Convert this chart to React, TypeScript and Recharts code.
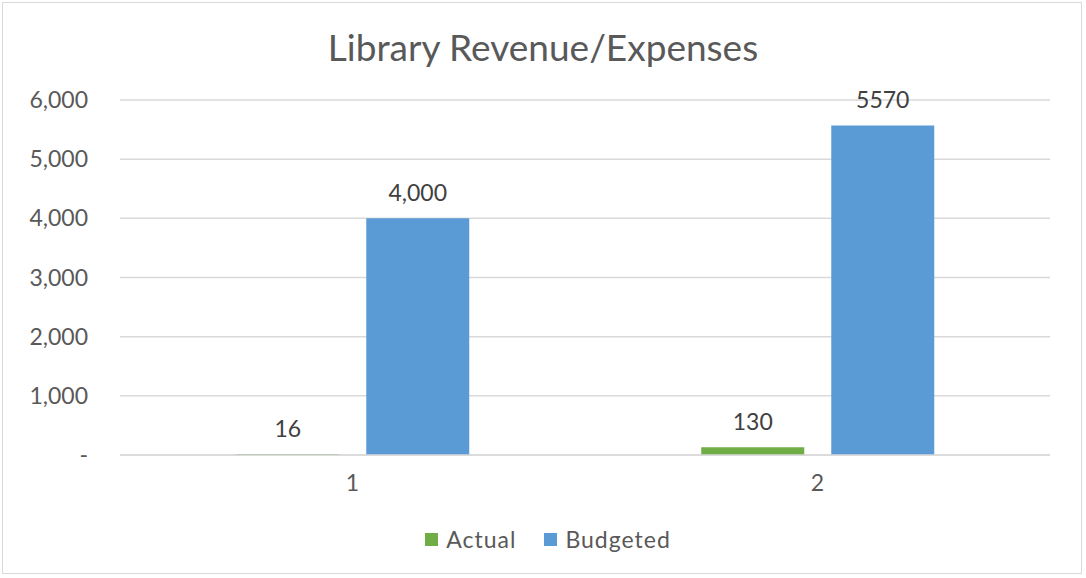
import { BarChart, Bar, XAxis, YAxis, CartesianGrid, Legend, LabelList } from "recharts";

const categories = ["1", "2"];
const actual = [16, 130];
const budgeted = [4000, 5570];
const actualLabels = ["16", "130"];
const budgetedLabels = ["4,000", "5570"];
const yTicks = [0, 1000, 2000, 3000, 4000, 5000, 6000];

const data = categories.map((c, i) => ({
  name: c,
  actual: actual[i],
  budgeted: budgeted[i],
  actualLabel: actualLabels[i],
  budgetedLabel: budgetedLabels[i],
}));

const FONT = "Lato, 'Open Sans', sans-serif";
const TEXT = "#595959";

const renderLegend = (props: any) => {
  const items = props.payload || [];
  return (
    <div style={{ display: "flex", justifyContent: "center", alignItems: "center", fontFamily: FONT, fontSize: 23, letterSpacing: 1, color: TEXT, paddingLeft: 46 }}>
      {items.map((it: any, i: number) => (
        <div key={i} style={{ display: "flex", alignItems: "center", marginRight: i === 0 ? 28 : 0 }}>
          <span style={{ width: 13, height: 13, background: it.color, display: "inline-block", marginRight: 8 }} />
          <span>{it.value}</span>
        </div>
      ))}
    </div>
  );
};

export default function App() {
  return (
    <div style={{ position: "absolute", left: 0, top: 0, width: 1086, height: 578, background: "#fff" }}>
      <div
        style={{
          position: "absolute",
          left: 2,
          top: 2,
          width: 1080,
          height: 572,
          border: "1.5px solid #d9d9d9",
          boxSizing: "border-box",
        }}
      />
      <div
        style={{
          position: "absolute",
          top: 24,
          left: 0,
          width: 1086,
          textAlign: "center",
          fontFamily: FONT,
          fontSize: 37,
          color: TEXT,
          lineHeight: "46px",
        }}
      >
        Library Revenue/Expenses
      </div>
      <BarChart
        width={1086}
        height={578}
        data={data}
        margin={{ top: 100, right: 36, left: 0, bottom: 20 }}
        barCategoryGap="25%"
        barGap={27}
      >
        <CartesianGrid vertical={false} stroke="#d9d9d9" strokeWidth={1.5} />
        <XAxis
          dataKey="name"
          height={70}
          tickLine={false}
          axisLine={{ stroke: "#d9d9d9", strokeWidth: 1.5 }}
          tickSize={0}
          tickMargin={20}
          tick={{ fill: TEXT, fontSize: 23, fontFamily: FONT }}
        />
        <YAxis
          width={120}
          domain={[0, 6000]}
          ticks={yTicks}
          axisLine={false}
          tickLine={false}
          tickSize={0}
          tickMargin={32}
          tickFormatter={(v: number) => (v === 0 ? "-" : v.toLocaleString("en-US"))}
          tick={{ fill: TEXT, fontSize: 23, fontFamily: FONT }}
        />
        <Legend height={33} content={renderLegend} />
        <Bar dataKey="actual" name="Actual" fill="#70AD47" isAnimationActive={false}>
          <LabelList dataKey="actualLabel" position="top" offset={17} fill="#404040" fontSize={23} fontFamily={FONT} />
        </Bar>
        <Bar dataKey="budgeted" name="Budgeted" fill="#5B9BD5" isAnimationActive={false}>
          <LabelList dataKey="budgetedLabel" position="top" offset={17} fill="#404040" fontSize={23} fontFamily={FONT} />
        </Bar>
      </BarChart>
    </div>
  );
}
